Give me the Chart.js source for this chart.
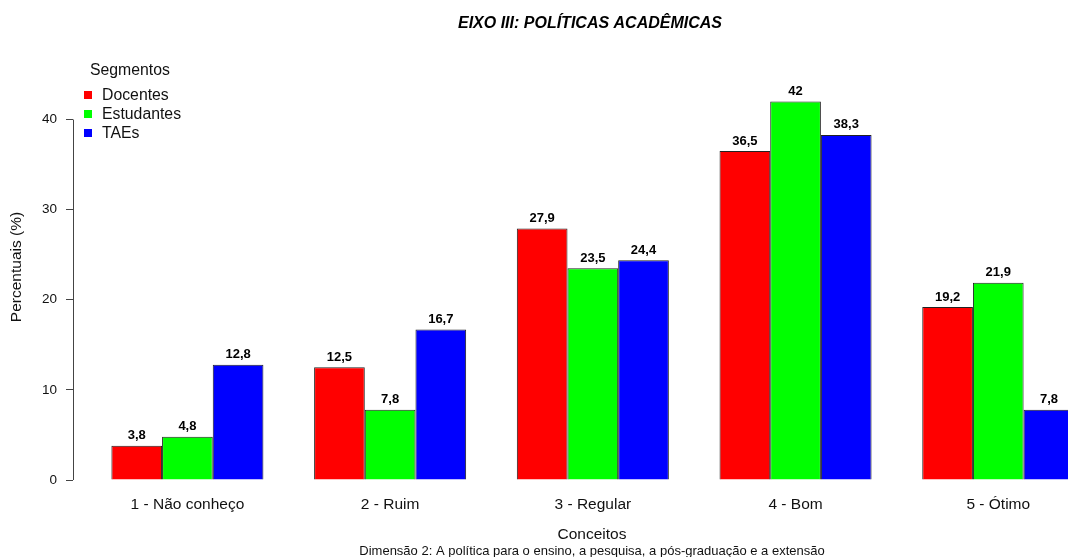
<!DOCTYPE html>
<html>
<head>
<meta charset="utf-8">
<script src="https://cdn.jsdelivr.net/npm/chart.js@4/dist/chart.umd.min.js"></script>
<style>
  html, body { margin: 0; padding: 0; background: #fff; }
  #wrap { width: 1068px; height: 557px; }
</style>
</head>
<body>
<div id="wrap"><canvas id="barChart" width="1068" height="557"></canvas></div>
<script>
// dados do grafico
const conceitos = ['1 - Não conheço', '2 - Ruim', '3 - Regular', '4 - Bom', '5 - Ótimo'];
const segmentos = ['Docentes', 'Estudantes', 'TAEs'];
const docentes = [3.8, 12.5, 27.9, 36.5, 19.2];
const estudantes = [4.8, 7.8, 23.5, 42, 21.9];
const taes = [12.8, 16.7, 24.4, 38.3, 7.8];
const yTicks = [0, 10, 20, 30, 40];
const cores = ['#FF0000', '#00FF00', '#0000FF'];

const FONT = '"Liberation Sans", Arial, sans-serif';

function toPoints(values) {
  return values.map((v, i) => ({ x: i + 1, y: v }));
}

// textos e eixo no estilo do R
const extras = {
  id: 'extras',
  afterDatasetsDraw(chart) {
    const ctx = chart.ctx;
    const area = chart.chartArea;
    const y = chart.scales.y;
    ctx.save();

    // linha do eixo y (so de 0 a 40)
    ctx.strokeStyle = '#444';
    ctx.lineWidth = 1;
    ctx.beginPath();
    ctx.moveTo(area.left + 0.5, y.getPixelForValue(yTicks[0]));
    ctx.lineTo(area.left + 0.5, y.getPixelForValue(yTicks[yTicks.length - 1]));
    ctx.stroke();

    // rotulos das barras
    ctx.fillStyle = '#000';
    ctx.font = 'bold 13px ' + FONT;
    ctx.textAlign = 'center';
    ctx.textBaseline = 'middle';
    chart.data.datasets.forEach((ds, di) => {
      const meta = chart.getDatasetMeta(di);
      meta.data.forEach((bar, i) => {
        const txt = String(ds.data[i].y).replace('.', ',');
        ctx.fillText(txt, bar.x, bar.y - 10);
      });
    });

    // titulo
    ctx.font = 'italic bold 16px ' + FONT;
    ctx.fillText('EIXO III: POLÍTICAS ACADÊMICAS', 590, 24);

    // titulos dos eixos
    ctx.font = '15.5px ' + FONT;
    ctx.fillStyle = '#111';
    ctx.fillText('Conceitos', 592, 535);
    ctx.font = '13px ' + FONT;
    ctx.fillText('Dimensão 2: A política para o ensino, a pesquisa, a pós-graduação e a extensão', 592, 551);

    ctx.save();
    ctx.translate(17, 267);
    ctx.rotate(-Math.PI / 2);
    ctx.font = '15.5px ' + FONT;
    ctx.fillText('Percentuais (%)', 0, 0);
    ctx.restore();

    // legenda
    ctx.textAlign = 'left';
    ctx.font = '15.8px ' + FONT;
    ctx.fillText('Segmentos', 90, 71);
    chart.data.datasets.forEach((ds, di) => {
      const ly = 95 + di * 19;
      ctx.fillStyle = ds.backgroundColor;
      ctx.fillRect(84, ly - 4, 8, 8);
      ctx.fillStyle = '#111';
      ctx.fillText(ds.label, 102, ly + 1);
    });

    ctx.restore();
  }
};

const ctx = document.getElementById('barChart').getContext('2d');
const barChart = new Chart(ctx, {
  type: 'bar',
  data: {
    datasets: [docentes, estudantes, taes].map((vals, k) => ({
      label: segmentos[k],
      data: toPoints(vals),
      backgroundColor: cores[k],
      borderColor: '#222',
      borderWidth: 1,
      barPercentage: 1,
      categoryPercentage: 0.75
    }))
  },
  options: {
    responsive: false,
    animation: false,
    layout: { padding: { top: 86.4, left: 0, right: 0, bottom: 0 } },
    plugins: {
      legend: { display: false },
      tooltip: { enabled: false }
    },
    scales: {
      x: {
        type: 'linear',
        min: 0.4356,
        max: 5.344,
        offset: false,
        grid: { display: false, drawTicks: false, offset: false },
        border: { display: false },
        afterBuildTicks: (scale) => {
          scale.ticks = conceitos.map((c, i) => ({ value: i + 1 }));
        },
        afterFit: (scale) => { scale.height = 77; },
        ticks: {
          autoSkip: false,
          maxRotation: 0,
          padding: 15,
          color: '#111',
          font: { family: FONT, size: 15.5 },
          callback: (v) => conceitos[Math.round(v) - 1]
        }
      },
      y: {
        min: 0,
        max: 43.68,
        grid: { drawOnChartArea: false, drawTicks: true, tickLength: 7, color: '#444' },
        border: { display: false },
        afterBuildTicks: (scale) => {
          scale.ticks = yTicks.map(v => ({ value: v }));
        },
        afterFit: (scale) => { scale.width = 73; },
        ticks: {
          padding: 9,
          color: '#111',
          font: { family: FONT, size: 13.5 }
        }
      }
    }
  },
  plugins: [extras]
});
</script>
</body>
</html>
